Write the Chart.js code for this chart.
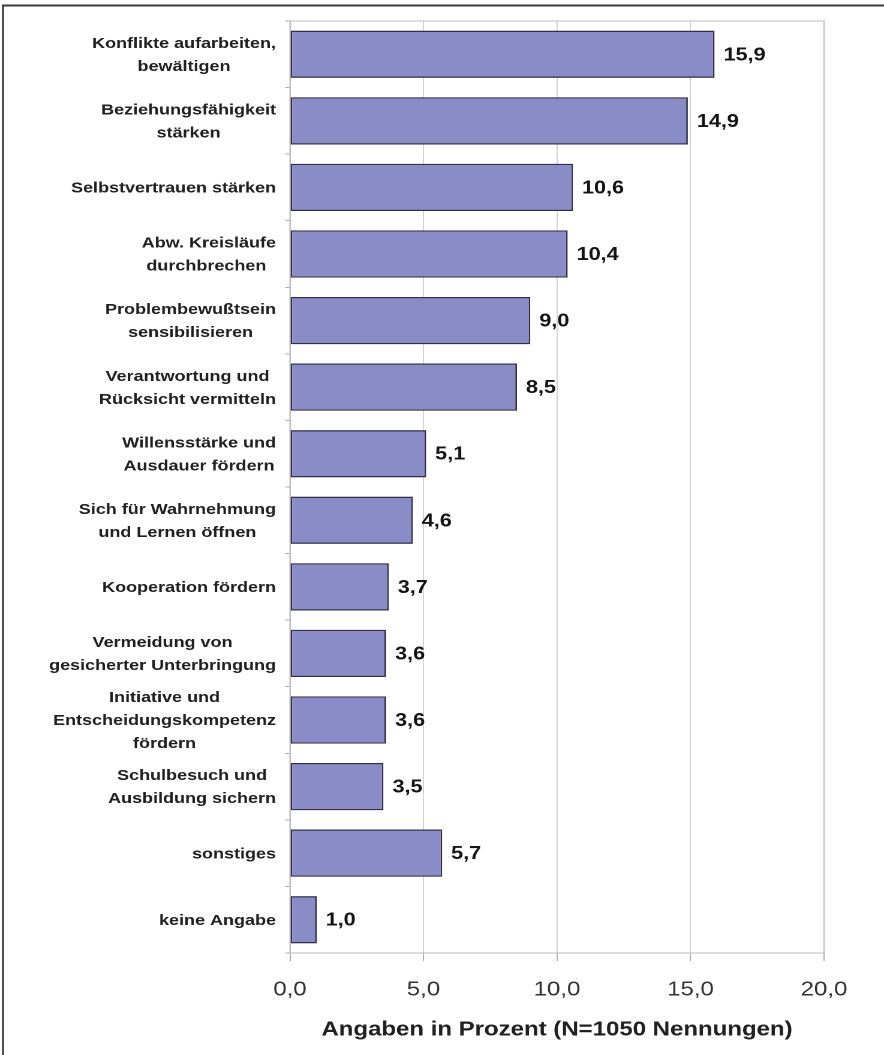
<!DOCTYPE html>
<html>
<head>
<meta charset="utf-8">
<script src="https://cdn.jsdelivr.net/npm/chart.js@4/dist/chart.umd.min.js"></script>
<style>
  html, body { margin: 0; padding: 0; background: #fff; overflow: hidden; }
  #chart { display: block; width: 884px !important; height: 1055px !important; }
</style>
</head>
<body>
<canvas id="chart" width="737" height="1055" style="width:884px;height:1055px"></canvas>
<script>
// Category labels (one array entry per line of text)
const categories = [
  ["Konflikte aufarbeiten,", "bewältigen"],
  ["Beziehungsfähigkeit", "stärken"],
  ["Selbstvertrauen stärken"],
  ["Abw. Kreisläufe", "durchbrechen "],
  ["Problembewußtsein", "sensibilisieren"],
  ["Verantwortung und", "Rücksicht vermitteln"],
  ["Willensstärke und", "Ausdauer fördern"],
  ["Sich für Wahrnehmung", "und Lernen öffnen"],
  ["Kooperation fördern"],
  ["Vermeidung von", "gesicherter Unterbringung"],
  ["Initiative und", "Entscheidungskompetenz", "fördern"],
  ["Schulbesuch und", "Ausbildung sichern"],
  ["sonstiges"],
  ["keine Angabe"]
];

// Share of mentions in percent
const values = [15.9, 14.9, 10.6, 10.4, 9.0, 8.5, 5.1, 4.6, 3.7, 3.6, 3.6, 3.5, 5.7, 1.0];

// Value axis ticks
const xTickValues = [0, 5, 10, 15, 20];
const axisTitle = "Angaben in Prozent (N=1050 Nennungen)";

const FONT = '"Liberation Sans", Arial, Helvetica, sans-serif';
// The canvas is drawn 737 units wide and shown 884px wide (wide lettering).
const SX = 884 / 737;
const px = v => v / SX; // horizontal screen pixels -> drawing units

const fmt = v => Number(v).toFixed(1).replace('.', ',');

const decorations = {
  id: 'decorations',
  beforeDraw(chart) {
    const ctx = chart.ctx;
    ctx.save();
    ctx.fillStyle = '#ffffff';
    ctx.fillRect(0, 0, chart.width, chart.height);
    // outer frame: top and left edges
    ctx.fillStyle = '#3a3a3a';
    ctx.fillRect(px(2), 4.5, chart.width, 2);
    ctx.fillRect(px(2), 4.5, px(2), chart.height);
    ctx.restore();
  },
  beforeDatasetsDraw(chart) {
    const {ctx, chartArea: a} = chart;
    ctx.save();
    ctx.strokeStyle = '#bdbdbd';
    ctx.lineWidth = 1;
    ctx.strokeRect(a.left, a.top, a.right - a.left, a.bottom - a.top);
    ctx.restore();
  },
  afterDatasetsDraw(chart) {
    const ctx = chart.ctx;
    const meta = chart.getDatasetMeta(0);
    ctx.save();
    ctx.fillStyle = '#141414';
    ctx.font = 'bold 18px ' + FONT;
    ctx.textAlign = 'left';
    ctx.textBaseline = 'middle';
    meta.data.forEach((bar, i) => {
      ctx.fillText(fmt(values[i]), bar.x + px(9), bar.y + 1);
    });
    ctx.restore();
  },
  afterDraw(chart) {
    const ctx = chart.ctx;
    const yScale = chart.scales.y;
    const right = px(276);
    const lineH = 23;
    ctx.save();
    ctx.fillStyle = '#202020';
    ctx.font = 'bold 15px ' + FONT;
    ctx.textAlign = 'center';
    ctx.textBaseline = 'middle';
    categories.forEach((lines, i) => {
      const cy = yScale.getPixelForValue(i);
      const w = Math.max(...lines.map(l => ctx.measureText(l).width));
      const cx = right - w / 2;
      lines.forEach((l, k) => {
        ctx.fillText(l, cx, cy + (k - (lines.length - 1) / 2) * lineH + 1);
      });
    });
    ctx.restore();
  }
};

Chart.defaults.font.family = FONT;

new Chart(document.getElementById('chart'), {
  type: 'bar',
  data: {
    labels: categories,
    datasets: [{
      data: values,
      backgroundColor: '#8a8cc8',
      borderColor: '#30304a',
      borderWidth: 1.4,
      borderSkipped: false,
      barPercentage: 1,
      categoryPercentage: 0.71
    }]
  },
  options: {
    indexAxis: 'y',
    responsive: false,
    animation: false,
    devicePixelRatio: 2,
    layout: { padding: { top: 21, right: 737 - px(824), left: 0, bottom: 0 } },
    plugins: {
      legend: { display: false },
      tooltip: { enabled: false }
    },
    scales: {
      x: {
        min: 0,
        max: 20,
        afterBuildTicks: s => { s.ticks = xTickValues.map(v => ({ value: v })); },
        ticks: {
          callback: v => fmt(v),
          font: { size: 20 },
          color: '#333333',
          padding: 17,
          maxRotation: 0,
          autoSkip: false
        },
        grid: { color: '#d2d2d2', tickLength: 8, tickColor: '#b0b0b0', lineWidth: 1 },
        border: { color: '#bdbdbd' },
        title: {
          display: true,
          text: axisTitle,
          font: { size: 20, weight: 'bold' },
          color: '#202020',
          padding: { top: 16, bottom: 13 }
        },
        afterFit: s => { s.height = 102; }
      },
      y: {
        ticks: { display: false },
        grid: { offset: true, drawOnChartArea: false, tickLength: 4, color: '#b0b0b0' },
        border: { color: '#bdbdbd' },
        afterFit: s => { s.width = px(290); }
      }
    }
  },
  plugins: [decorations]
});
</script>
</body>
</html>
